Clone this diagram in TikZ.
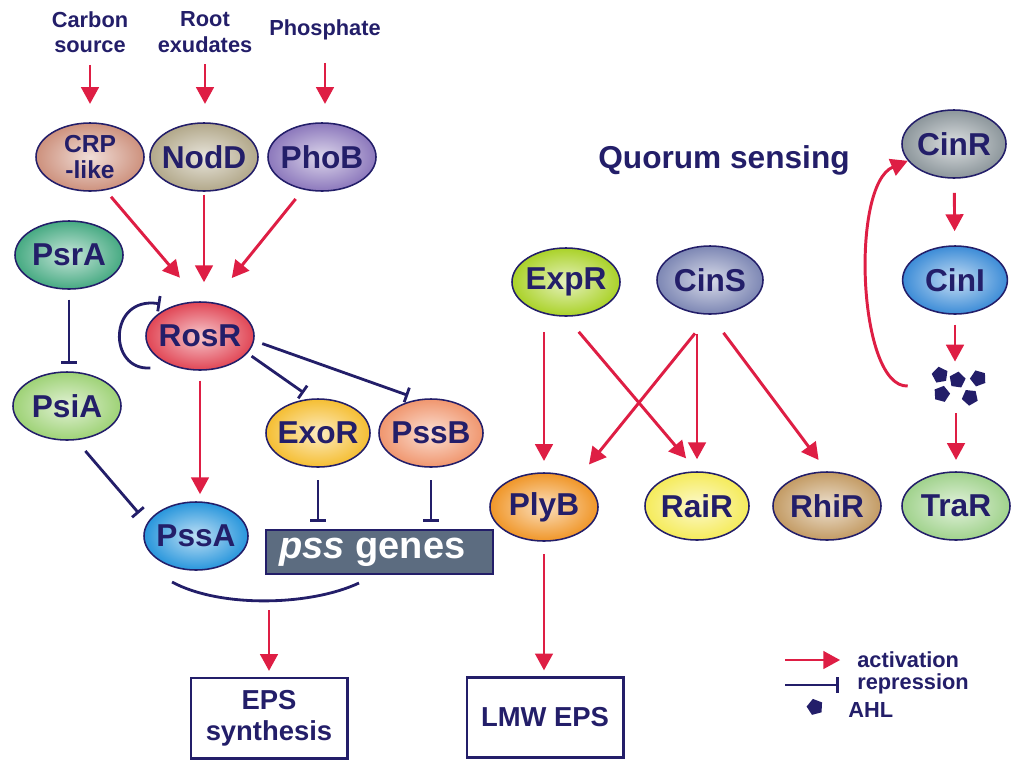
\documentclass[tikz,border=0pt]{standalone}
\usepackage{fontspec}
\setmainfont{Liberation Sans}
\usetikzlibrary{shapes.geometric,arrows.meta}

\definecolor{navy}{RGB}{35,30,105}
\definecolor{actred}{RGB}{222,30,68}
\definecolor{pssgray}{RGB}{92,108,128}
\definecolor{crpc}{RGB}{205,145,125}
\definecolor{noddc}{RGB}{178,168,138}
\definecolor{phobc}{RGB}{140,120,188}
\definecolor{psrac}{RGB}{70,170,130}
\definecolor{psiac}{RGB}{158,210,118}
\definecolor{rosrc}{RGB}{225,70,85}
\definecolor{exorc}{RGB}{245,190,50}
\definecolor{pssbc}{RGB}{240,150,110}
\definecolor{pssac}{RGB}{40,150,220}
\definecolor{plybc}{RGB}{240,150,40}
\definecolor{exprc}{RGB}{170,210,40}
\definecolor{cinsc}{RGB}{125,135,180}
\definecolor{rairc}{RGB}{245,235,90}
\definecolor{rhirc}{RGB}{195,155,100}
\definecolor{cinrc}{RGB}{140,150,155}
\definecolor{cinic}{RGB}{60,140,215}
\definecolor{trarc}{RGB}{160,210,140}

\tikzset{
  prot/.style={ellipse, draw=navy, line width=1.1pt, minimum width=2.7cm, minimum height=1.7cm,
    inner sep=-3pt, text=navy, font=\fontsize{22.5}{24}\selectfont\bfseries,
    inner color=#1!30!white, outer color=#1},
  lbl/.style={text=navy, font=\fontsize{15.5}{18}\selectfont\bfseries, align=center, inner sep=0pt},
  outbox/.style={draw=navy, line width=2.1pt, minimum width=3.9cm, minimum height=2cm, inner sep=0pt,
    text=navy, align=center, font=\fontsize{19.5}{22}\selectfont\bfseries},
  act/.style={draw=actred, line width=2.1pt, -{Triangle[length=12pt,width=12.5pt]}},
  rep/.style={draw=navy, line width=2pt, -{Bar[width=11pt,line width=2pt]}},
  ahlmol/.style={regular polygon, regular polygon sides=5, fill=navy, minimum size=0.42cm, inner sep=0pt},
}

\begin{document}
\begin{tikzpicture}[x=0.025cm, y=-0.025cm]
  \useasboundingbox (0,0) rectangle (1024,771);

  % inputs
  \node[lbl] (carbon) at (90,32) {Carbon\\source};
  \node[lbl] (root) at (205,32) {Root\\exudates};
  \node[lbl] (phos) at (325,30) {Phosphate};

  % EPS side
  \node[prot=crpc, font=\fontsize{17.5}{19}\selectfont\bfseries, align=center] (crp) at (90,157) {CRP\\-like};
  \node[prot=noddc] (nodd) at (204,157) {NodD};
  \node[prot=phobc] (phob) at (322,157) {PhoB};
  \node[prot=psrac] (psra) at (69,255) {PsrA};
  \node[prot=psiac] (psia) at (67,406) {PsiA};
  \node[prot=rosrc] (rosr) at (200,336) {RosR};
  \node[prot=exorc, minimum width=2.6cm] (exor) at (318,433) {ExoR};
  \node[prot=pssbc, minimum width=2.6cm] (pssb) at (431,433) {PssB};
  \node[prot=pssac, minimum width=2.6cm] (pssa) at (196,536) {PssA};
  \node[fill=pssgray, draw=navy, line width=1pt, minimum width=5.675cm, minimum height=1.1cm,
    text=white, font=\fontsize{27}{30}\selectfont\bfseries] (pss) at (379.5,552) {\textit{pss} genes\kern10pt};
  \node[outbox] (eps) at (269,718) {EPS\\synthesis};
  \coordinate (join) at (269,603);

  \draw[act, shorten <=8.5pt, shorten >=13pt] (carbon) -- (carbon |- crp.north);
  \draw[act, shorten <=8.5pt, shorten >=13pt] (root) -- (root |- nodd.north);
  \draw[act, shorten <=16pt, shorten >=13pt] (phos) -- (phos |- phob.north);
  \draw[act, shorten <=6pt, shorten >=22pt] (crp.-65) -- (rosr.north);
  \draw[act, shorten <=2pt, shorten >=13.5pt] (nodd) -- (nodd |- rosr.north);
  \draw[act, shorten <=8.5pt, shorten >=22pt] (phob.-120) -- (rosr.70);
  \draw[rep, shorten <=7pt, shorten >=5pt] (psra) -- (psra |- psia.north);
  \draw[rep, shorten <=10pt, shorten >=9pt] (psia.-75) -- (pssa.165);
  \draw[rep, shorten <=16pt, shorten >=9pt] (rosr.228) .. controls +(-65,5) and +(-65,-10) .. (rosr.132);
  \draw[act, shorten <=7pt, shorten >=5pt] (rosr) -- (rosr |- pssa.north);
  \draw[rep, shorten <=3.5pt, shorten >=7pt] (rosr.-20) -- (exor.100);
  \draw[rep, shorten <=6pt, shorten >=8pt] (rosr.-5) -- (pssb.110);
  \draw[rep, shorten <=9pt, shorten >=5pt] (exor) -- (exor |- pss.north);
  \draw[rep, shorten <=9pt, shorten >=5pt] (pssb) -- (pssb |- pss.north);
  \draw[navy, line width=2pt] (172,582) .. controls (220,608) and (310,606) .. (359,583);
  \draw[act, shorten <=5pt, shorten >=4pt] (join) -- (join |- eps.north);

  % quorum sensing side
  \node[text=navy, font=\fontsize{22.5}{25}\selectfont\bfseries] (qs) at (724,160) {Quorum sensing};
  \node[prot=exprc] (expr) at (566,282) {ExpR};
  \node[prot=cinsc, minimum width=2.65cm] (cins) at (710,280) {CinS};
  \node[prot=plybc] (plyb) at (544,507) {PlyB};
  \node[prot=rairc, minimum width=2.6cm] (rair) at (697,506) {RaiR};
  \node[prot=rhirc] (rhir) at (827,506) {RhiR};
  \node[outbox] (lmw) at (545,717.5) {LMW EPS};

  \draw[act, shorten <=11pt, shorten >=8pt] (plyb |- expr.south) -- (plyb);
  \draw[act, shorten <=14pt, shorten >=12pt] (expr.south) -- (rair.north);
  \draw[act, shorten <=17pt, shorten >=13.5pt] (cins.south) -- (plyb.40);
  \draw[act, shorten <=13.5pt, shorten >=8.5pt] (rair |- cins.south) -- (rair);
  \draw[act, shorten <=16pt, shorten >=10pt] (cins.south) -- (rhir.north);
  \draw[act, shorten <=9pt, shorten >=4pt] (plyb) -- (plyb |- lmw.north);

  \node[prot=cinrc, minimum width=2.6cm] (cinr) at (954,144) {CinR};
  \node[prot=cinic, minimum width=2.62cm] (cini) at (955,280) {CinI};
  \node[minimum width=2.5cm, minimum height=0.75cm, inner sep=0pt] (ahl) at (958,386) {};
  \node[ahlmol, rotate=10] (ahl1) at (940,375) {};
  \node[ahlmol, rotate=-8] (ahl2) at (957.3,380) {};
  \node[ahlmol, rotate=20] (ahl3) at (978.3,378.3) {};
  \node[ahlmol, rotate=-15] (ahl4) at (941.7,394) {};
  \node[ahlmol, rotate=30] (ahl5) at (970,397.3) {};
  \node[prot=trarc] (trar) at (956,506) {TraR};

  \draw[act, shorten <=10pt, shorten >=10pt] (cinr) -- (cini);
  \draw[act, shorten <=7pt, shorten >=6.5pt] (cini) -- (cini |- ahl.north);
  \draw[act, shorten <=8.5pt, shorten >=8pt] (trar |- ahl.south) -- (trar);
  \draw[act] (ahl.west) .. controls (858,388) and (850,185) .. (cinr.200);

  % legend
  \node[lbl, anchor=west] (legact) at (857,660) {activation};
  \node[lbl, anchor=west] (legrep) at (857,684) {repression};
  \node[lbl, anchor=west] (legahl) at (848,710) {AHL};
  \node[ahlmol, rotate=15] (legmol) at (815,707) {};
  \coordinate (actstart) at (785,660);
  \coordinate (repstart) at (785,685);
  \draw[act, shorten >=12pt] (actstart) -- (actstart -| legact.west);
  \draw[rep, shorten >=13pt] (repstart) -- (repstart -| legrep.west);
\end{tikzpicture}
\end{document}
